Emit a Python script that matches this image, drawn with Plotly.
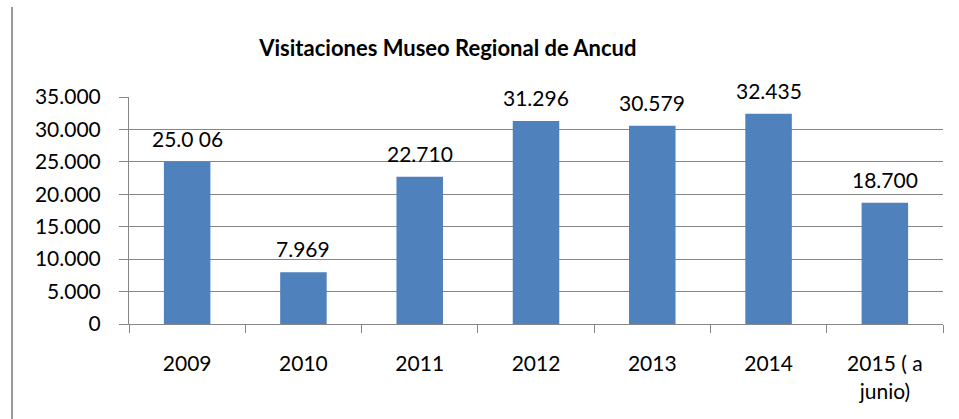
import plotly.graph_objects as go

categories = ["2009", "2010", "2011", "2012", "2013", "2014", "2015 ( a<br>junio)"]
values = [25006, 7969, 22710, 31296, 30579, 32435, 18700]
labels = ["25.0 06", "7.969", "22.710", "31.296", "30.579", "32.435", "18.700"]
y_ticks = [0, 5000, 10000, 15000, 20000, 25000, 30000, 35000]

FONT = "Lato"
GRID = "#868686"

fig = go.Figure()
fig.add_trace(go.Bar(x=categories, y=values, marker=dict(color="#4F81BD", line=dict(width=0)),
                     hoverinfo="skip"))

for i, (v, t) in enumerate(zip(values, labels)):
    fig.add_annotation(x=i, y=v, text=t, showarrow=False, yanchor="bottom", yshift=9,
                       font=dict(family=FONT, size=21, color="#000000"))

fig.add_shape(type="line", xref="paper", yref="paper", x0=-0.1437, x1=-0.1437, y0=1.396, y1=-0.5,
              line=dict(color="#9a9a9a", width=2))

fig.update_layout(
    width=959, height=419,
    margin=dict(l=129, r=16, t=97, b=95, autoexpand=False),
    paper_bgcolor="white", plot_bgcolor="white",
    bargap=0.6,
    separators=",.",
    showlegend=False,
    title=dict(text="<b>Visitaciones Museo Regional de Ancud</b>", x=0.467, xanchor="center",
               yref="container", y=0.885, yanchor="middle",
               font=dict(family=FONT, size=22, color="#000000")),
    font=dict(family=FONT, size=21, color="#000000"),
)
fig.update_xaxes(type="category", range=[-0.5, len(categories) - 0.5], autorange=False,
                 automargin=False, showline=True, linecolor=GRID, linewidth=1,
                 ticks="outside", tickson="boundaries", ticklen=8, tickcolor=GRID,
                 ticklabelstandoff=21, showgrid=False, tickangle=0,
                 tickfont=dict(family=FONT, size=21, color="#000000"))
fig.update_yaxes(range=[0, 35000], tickvals=y_ticks, tickformat=",d", showline=True,
                 automargin=False, linecolor=GRID, linewidth=1, ticks="outside", ticklen=9,
                 tickcolor=GRID, showgrid=True, gridcolor=GRID, gridwidth=1, zeroline=False,
                 ticklabelstandoff=14, tickfont=dict(family=FONT, size=21, color="#000000"))

fig.write_html("out.html", config={"displayModeBar": False},
               post_script="document.body.style.margin='0';")
